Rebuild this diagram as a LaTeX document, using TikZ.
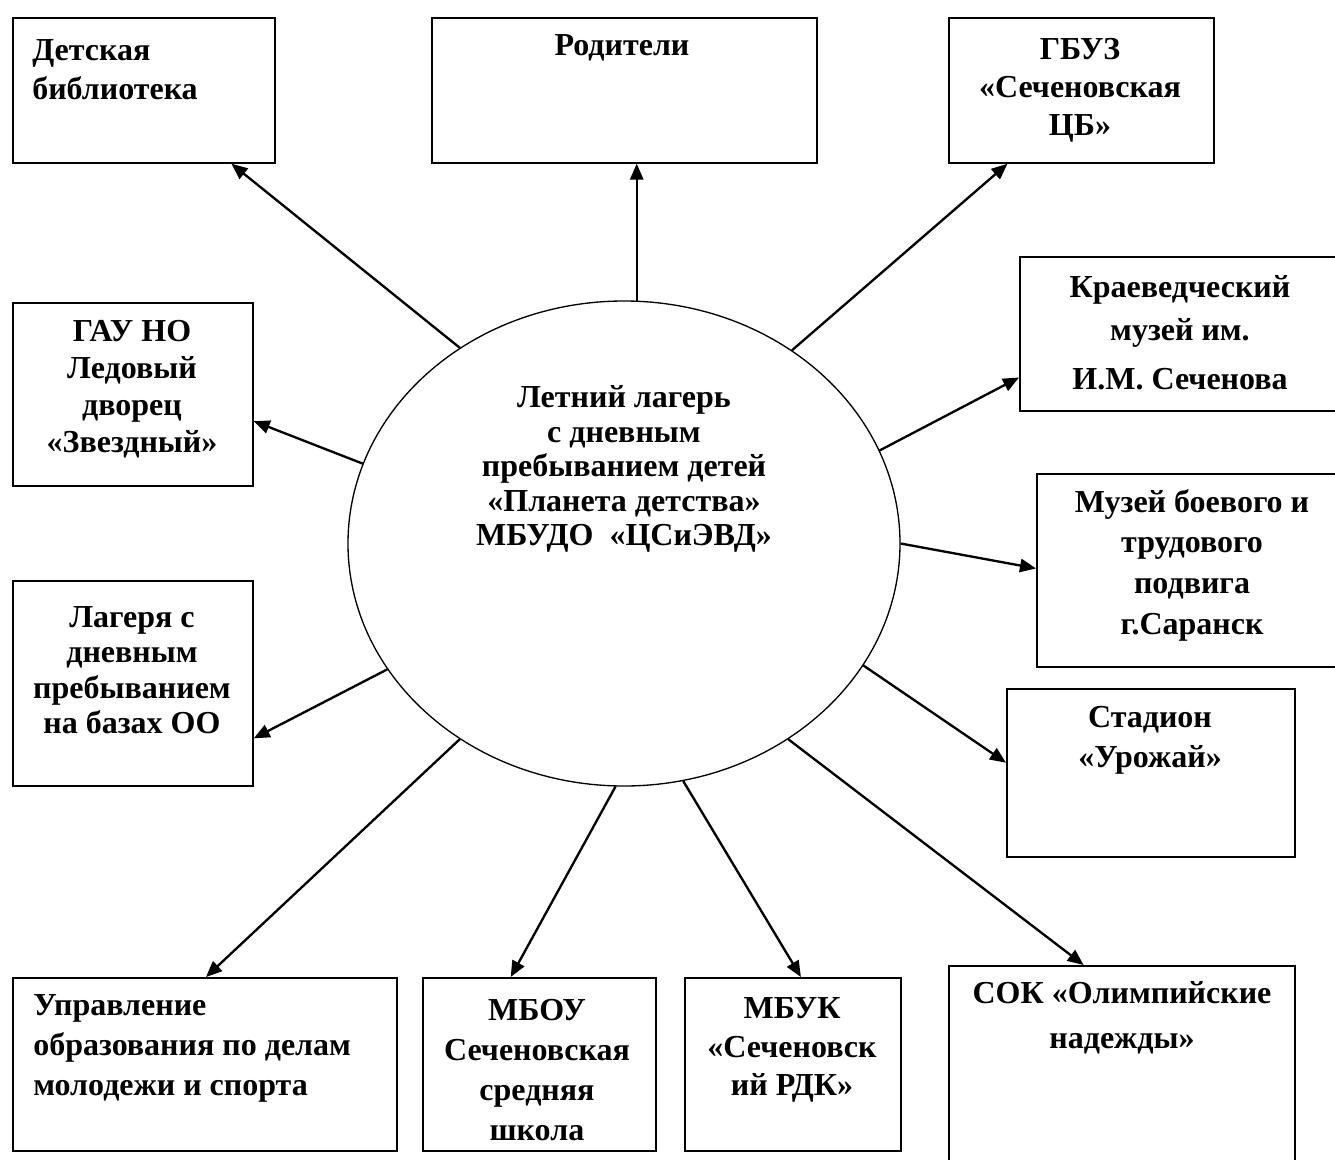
\documentclass[tikz,border=0pt]{standalone}
\usepackage{fontspec}
\setmainfont{Liberation Serif}
\usetikzlibrary{arrows.meta,shapes.geometric,calc}
\newcommand\bx[5]{\node[boxst, anchor=north west, minimum width={(#4-#2)*0.75pt}, minimum height={(#5-#3)*0.75pt}] (#1) at (#2,#3) {};}
\begin{document}
\begin{tikzpicture}[x=0.75pt,y=-0.75pt,
  boxst/.style={draw, line width=1.3pt, rectangle, inner sep=0pt},
  ellst/.style={draw, line width=1pt, ellipse, inner sep=0pt},
  txt/.style={inner sep=0pt, align=center, font=\fontsize{24pt}{#1}\selectfont\bfseries},
  arr/.style={line width=1.75pt, -{Triangle[length=12pt,width=10pt]}}]
\clip (0,0) rectangle (1335,1160);
\fill[white] (0,0) rectangle (1335,1160);
% boxes
\bx{b1}{12}{17}{274}{162}
\bx{b2}{431}{17}{816}{162}
\bx{b3}{948}{17}{1213}{162}
\bx{b4}{1019}{256}{1345}{410}
\bx{b5}{1036}{473}{1345}{666}
\bx{b6}{1006}{688}{1294}{856}
\bx{b7}{948}{965}{1294}{1175}
\bx{b8}{684}{977}{900}{1150}
\bx{b9}{422}{977}{655}{1150}
\bx{b10}{12}{977}{396}{1150}
\bx{b11}{12}{580}{252}{785}
\bx{b12}{12}{302}{252}{485}
% centre
\node[ellst, minimum width={552*0.75pt}, minimum height={485*0.75pt}] (c) at (624,543.5) {};
\node[txt=25.9pt] (ct) at (624,469) {Летний лагерь\\с дневным\\пребыванием детей\\«Планета детства»\\МБУДО\ \ «ЦСиЭВД»};
% texts
\node[txt=29.3pt, align=left, anchor=west] (t1) at (32,69.5) {Детская\\библиотека};
\node[txt=30pt] (t2) at (622,48) {Родители};
\node[txt=28.5pt] (t3) at (1080,90) {ГБУЗ\\«Сеченовская\\ЦБ»};
\node[txt=32pt] (t4) at (1180,333) {Краеведческий\\музей им.\\[5pt]И.М. Сеченова};
\node[txt=30.5pt] (t5) at (1192,565) {Музей боевого и\\трудового\\подвига\\г.Саранск};
\node[txt=30pt] (t6) at (1150,740) {Стадион\\«Урожай»};
\node[txt=33.8pt] (t7) at (1122,1017.5) {СОК «Олимпийские\\надежды»};
\node[txt=29pt] (t8) at (792,1050) {МБУК\\«Сеченовск\\ий РДК»};
\node[txt=30pt] (t9) at (537,1070) {МБОУ\\Сеченовская\\средняя\\школа};
\node[txt=30pt, align=left, anchor=west] (t10) at (33,1048) {Управление\\образования по делам\\молодежи и спорта};
\node[txt=26.6pt] (t11) at (132,670) {Лагеря с\\дневным\\пребыванием\\на базах ОО};
\node[txt=27.8pt] (t12) at (132,389) {ГАУ НО\\Ледовый\\дворец\\«Звездный»};
% connectors
\draw[arr] (c.130.4) -- ($(b1.south west)!0.832!(b1.south east)$);
\draw[arr] (c.87.2) -- (c.87.2 |- b2.south);
\draw[arr] (c.49.8) -- ($(b3.south west)!0.223!(b3.south east)$);
\draw[arr] (c.20.6) -- ($(b4.north west)!0.78!(b4.south west)$);
\draw[arr] (c.-0.5) -- ($(b5.north west)!0.49!(b5.south west)$);
\draw[arr] (c.-27.5) -- ($(b6.north west)!0.44!(b6.south west)$);
\draw[arr] (c.-50.2) -- ($(b7.north west)!0.39!(b7.north east)$);
\draw[arr] (c.-76.1) -- ($(b8.north west)!0.537!(b8.north east)$);
\draw[arr] (c.-92.6) -- ($(b9.north west)!0.378!(b9.north east)$);
\draw[arr] (c.-130.6) -- ($(b10.north west)!0.503!(b10.north east)$);
\draw[arr] (c.-152.9) -- ($(b11.north east)!0.766!(b11.south east)$);
\draw[arr] (c.163) -- ($(b12.north east)!0.645!(b12.south east)$);
\end{tikzpicture}
\end{document}
